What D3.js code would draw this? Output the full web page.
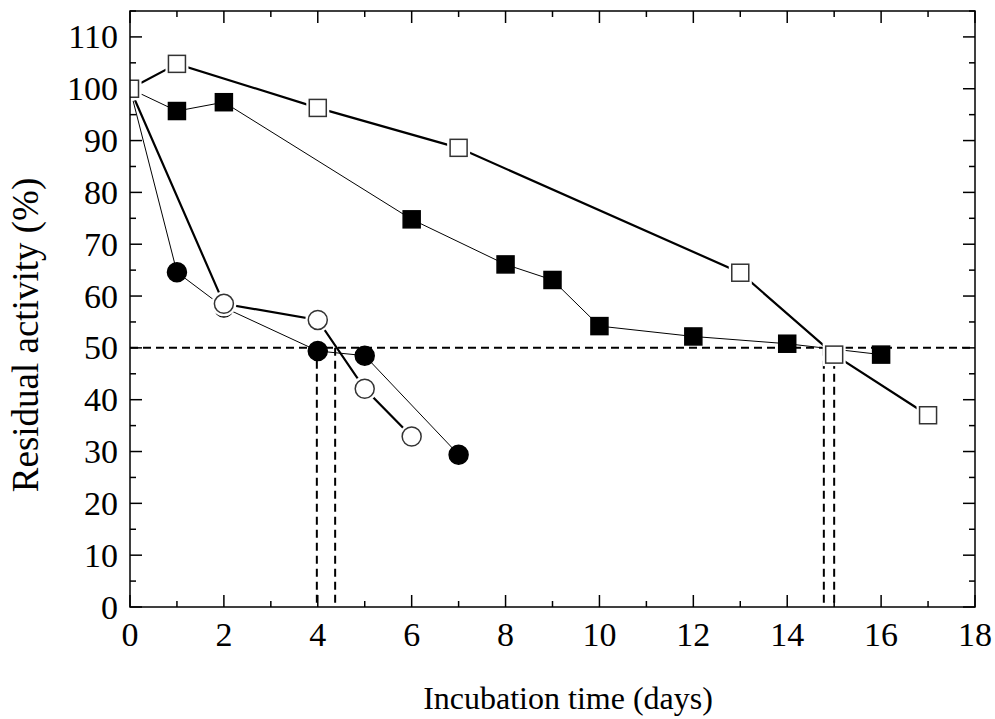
<!DOCTYPE html>
<html>
<head>
<meta charset="utf-8">
<script src="https://cdn.jsdelivr.net/npm/d3@7"></script>
<style>
  body { margin: 0; background: #fff; }
  text { font-family: "Liberation Serif", "Times New Roman", serif; fill: #000; }
</style>
</head>
<body>
<svg id="chart" width="995" height="719"></svg>
<script>
// days and residual activity (%) for the four series
var openSquareX = [0, 1, 4, 7, 13, 15, 17];
var openSquareY = [100, 104.8, 96.3, 88.6, 64.5, 48.7, 37];

var filledSquareX = [0, 1, 2, 6, 8, 9, 10, 12, 14, 16];
var filledSquareY = [100, 95.7, 97.4, 74.8, 66.1, 63.1, 54.2, 52.2, 50.8, 48.7];

var openCircleX = [0, 2, 4, 5, 6];
var openCircleY = [100, 58.5, 55.4, 42.1, 32.9];

var filledCircleX = [0, 1, 2, 4, 5, 7];
var filledCircleY = [100, 64.6, 57.8, 49.4, 48.5, 29.4];

// 50% guide and the half-life drop lines
var halfLevel = 50;
var halfLifeDays = [3.98, 4.37, 14.78, 15.0];

var xTicks = [0, 2, 4, 6, 8, 10, 12, 14, 16, 18];
var yTicks = [0, 10, 20, 30, 40, 50, 60, 70, 80, 90, 100, 110];

var svg = d3.select("#chart");
var pLeft = 130, pRight = 975, pTop = 11, pBottom = 607;

var x = d3.scaleLinear().domain([0, 18]).range([pLeft, pRight]);
var y = d3.scaleLinear().domain([0, 115]).range([pBottom, pTop]);

function zipPts(xs, ys) {
  return xs.map(function(d, i) { return { x: d, y: ys[i] }; });
}

var series = [
  { pts: zipPts(filledCircleX, filledCircleY), shape: "circle", filled: true, width: 1 },
  { pts: zipPts(openCircleX, openCircleY), shape: "circle", filled: false, width: 2.2 },
  { pts: zipPts(filledSquareX, filledSquareY), shape: "square", filled: true, width: 1 },
  { pts: zipPts(openSquareX, openSquareY), shape: "square", filled: false, width: 2.2 }
];

svg.append("clipPath").attr("id", "plotclip")
  .append("rect")
  .attr("x", pLeft).attr("y", pTop)
  .attr("width", pRight - pLeft).attr("height", pBottom - pTop);

// ticks (inside, all four sides)
var tickG = svg.append("g").attr("stroke", "#000").attr("stroke-width", 1.5);
d3.range(0, 19, 1).forEach(function(v) {
  var len = (v % 2 === 0) ? 12 : 6;
  tickG.append("line").attr("x1", x(v)).attr("x2", x(v)).attr("y1", pBottom).attr("y2", pBottom - len);
  tickG.append("line").attr("x1", x(v)).attr("x2", x(v)).attr("y1", pTop).attr("y2", pTop + len);
});
d3.range(0, 116, 5).forEach(function(v) {
  var len = (v % 10 === 0) ? 12 : 6;
  tickG.append("line").attr("y1", y(v)).attr("y2", y(v)).attr("x1", pLeft).attr("x2", pLeft + len);
  tickG.append("line").attr("y1", y(v)).attr("y2", y(v)).attr("x1", pRight).attr("x2", pRight - len);
});

// tick labels
svg.append("g").selectAll("text").data(xTicks).enter().append("text")
  .attr("x", function(d) { return x(d); })
  .attr("y", 646)
  .attr("text-anchor", "middle")
  .style("font-size", "34px")
  .text(function(d) { return d; });

svg.append("g").selectAll("text").data(yTicks).enter().append("text")
  .attr("x", 118)
  .attr("y", function(d) { return y(d); })
  .attr("dy", "0.34em")
  .attr("text-anchor", "end")
  .style("font-size", "34px")
  .text(function(d) { return d; });

// axis titles
svg.append("text")
  .attr("x", 568)
  .attr("y", 709)
  .attr("text-anchor", "middle")
  .style("font-size", "32px")
  .text("Incubation time (days)");

svg.append("text")
  .attr("transform", "translate(38," + 335 + ") rotate(-90)")
  .attr("text-anchor", "middle")
  .style("font-size", "37px")
  .text("Residual activity (%)");

var plot = svg.append("g").attr("clip-path", "url(#plotclip)");

// dashed guides
var dash = plot.append("g")
  .attr("stroke", "#000").attr("stroke-width", 2)
  .attr("stroke-dasharray", "8,5").attr("fill", "none");
dash.append("line")
  .attr("x1", x(0)).attr("x2", x(18))
  .attr("y1", y(halfLevel)).attr("y2", y(halfLevel));
dash.selectAll("line.drop").data(halfLifeDays).enter().append("line")
  .attr("class", "drop")
  .attr("x1", function(d) { return x(d); }).attr("x2", function(d) { return x(d); })
  .attr("y1", y(halfLevel)).attr("y2", y(0));

var line = d3.line()
  .x(function(d) { return x(d.x); })
  .y(function(d) { return y(d.y); });

series.forEach(function(s) {
  plot.append("path")
    .datum(s.pts)
    .attr("d", line)
    .attr("fill", "none")
    .attr("stroke", "#000")
    .attr("stroke-width", s.width);
});

// markers
function drawMarker(g, s, d, grow, fill, stroke) {
  var cx = x(d.x), cy = y(d.y);
  if (s.shape === "circle") {
    g.append("circle").attr("cx", cx).attr("cy", cy).attr("r", 9.5 + grow)
      .attr("fill", fill).attr("stroke", stroke).attr("stroke-width", 1.5);
  } else {
    var h = 8.5 + grow;
    g.append("rect").attr("x", cx - h).attr("y", cy - h)
      .attr("width", 2 * h).attr("height", 2 * h)
      .attr("fill", fill).attr("stroke", stroke).attr("stroke-width", 1.5);
  }
}

series.forEach(function(s) {
  var g = plot.append("g");
  s.pts.forEach(function(d) {
    if (s.filled) {
      drawMarker(g, s, d, 0, "#000", "#000");
    } else {
      drawMarker(g, s, d, 3, "#fff", "none");
      drawMarker(g, s, d, 0, "#fff", "#333");
    }
  });
});

// frame
svg.append("rect")
  .attr("x", pLeft).attr("y", pTop)
  .attr("width", pRight - pLeft).attr("height", pBottom - pTop)
  .attr("fill", "none").attr("stroke", "#000").attr("stroke-width", 1.5);
</script>
</body>
</html>
